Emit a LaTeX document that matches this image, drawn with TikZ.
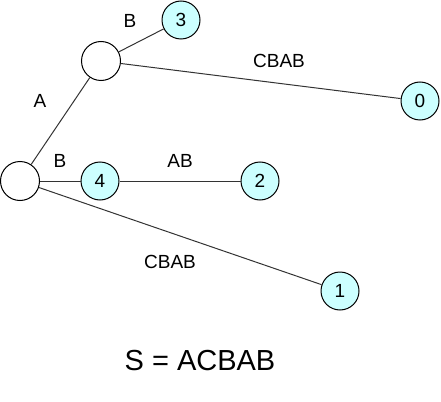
\documentclass[tikz,border=0pt]{standalone}
\usepackage{fontspec}
\setmainfont{Liberation Sans}
\begin{document}
\begin{tikzpicture}[x=1pt,y=-1pt,
  inner/.style={circle,draw=black,line width=1pt,fill=white,minimum size=39pt,inner sep=0pt},
  leaf/.style={circle,draw=black,line width=1pt,fill=white,minimum size=38pt,inner sep=0pt,font=\fontsize{19}{21}\selectfont},
  edge/.style={draw=black!80,line width=1pt},
  lbl/.style={font=\fontsize{19}{21}\selectfont,inner sep=0pt}]
\useasboundingbox (0,0) rectangle (441,401);
\definecolor{leafcyan}{HTML}{CCFFFF}
\tikzset{leaf/.append style={fill=leafcyan}}
% suffix tree nodes
\node[inner] (r) at (20,181) {};
\node[inner] (a) at (101,61) {};
\node[leaf] (n3) at (181,20) {3};
\node[leaf] (n0) at (420,101) {0};
\node[leaf] (n4) at (100,181) {4};
\node[leaf] (n2) at (260,181) {2};
\node[leaf] (n1) at (340,291) {1};
% edges
\draw[edge] (r) -- (a);
\draw[edge] (a) -- (n3);
\draw[edge] (a) -- (n0);
\draw[edge] (r) -- (n4);
\draw[edge] (n4) -- (n2);
\draw[edge] (r) -- (n1);
% edge labels
\node[lbl] (lA) at (40,101) {A};
\node[lbl] (lB1) at (130,21) {B};
\node[lbl] (lC1) at (279,61) {CBAB};
\node[lbl] (lB2) at (60,161) {B};
\node[lbl] (lAB) at (180,161) {AB};
\node[lbl] (lC2) at (170,262) {CBAB};
% string
\node[font=\fontsize{29}{32}\selectfont,inner sep=0pt] (s) at (200,361) {S = ACBAB};
\end{tikzpicture}
\end{document}
